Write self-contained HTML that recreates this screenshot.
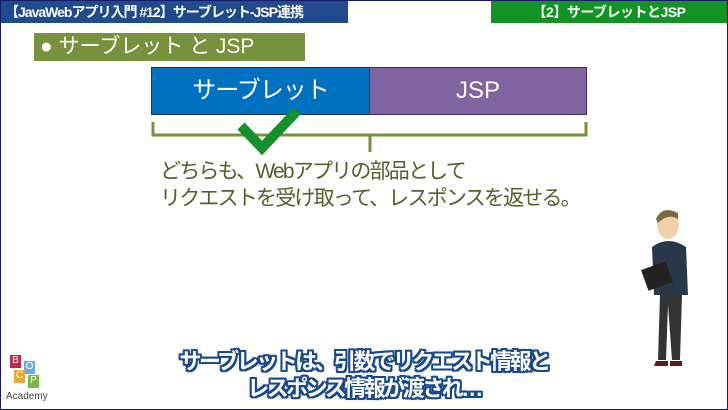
<!DOCTYPE html>
<html><head><meta charset="utf-8"><style>
*{margin:0;padding:0;box-sizing:border-box}
body{width:728px;height:410px;overflow:hidden;background:#fff;position:relative;font-family:"Liberation Sans","Noto Sans CJK JP",sans-serif}
.frame{position:absolute;left:0;top:0;width:728px;height:410px;border:1px solid #1a1a6a}
.a{position:absolute;white-space:nowrap}
</style></head><body>
<div class="frame"></div>
<div class="a" style="left:1px;top:1px;width:347px;height:22px;background:#1f4a8c;color:#fff;font-size:14px;line-height:22px;padding-left:4px;font-weight:bold;letter-spacing:-1px">【JavaWebアプリ入門 #12】サーブレット-JSP連携</div>
<div class="a" style="left:491px;top:1px;width:236px;height:22px;background:#139226;color:#fff;font-size:14px;line-height:22px;text-align:center;font-weight:bold;letter-spacing:-0.5px">【2】サーブレットとJSP</div>
<div class="a" style="left:34px;top:33px;width:271px;height:28px;background:#76923c;color:#fff;font-size:21px;line-height:28px;padding-left:6px">● サーブレット と JSP</div>
<div class="a" style="left:151px;top:67px;width:219px;height:48px;background:#0070c0;border:1px solid #1e2f4f;color:#fff;font-size:24px;line-height:46px;text-align:center;letter-spacing:-1px">サーブレット</div>
<div class="a" style="left:369px;top:67px;width:218px;height:48px;background:#8064a2;border:1px solid #3b3060;color:#fff;font-size:24px;line-height:46px;text-align:center">JSP</div>
<svg class="a" style="left:0;top:0" width="728" height="410">
<path d="M153 122 V135 H586 V122 M370 135 V152" fill="none" stroke="#76923c" stroke-width="3"/>
<path d="M241 126 L262 148 L297 111" fill="none" stroke="#16902c" stroke-width="10"/>
</svg>
<div class="a" style="left:160px;top:158px;color:#4f6228;font-size:21px;line-height:27px;letter-spacing:-1.8px">どちらも、Webアプリの部品として<br>リクエストを受け取って、レスポンスを返せる。</div>
<div class="a" style="left:0;top:348px;width:728px;text-align:center;color:#fff;font-size:22px;line-height:27px;font-weight:bold;letter-spacing:-2.5px;text-shadow:0 0 3px #1a4a8a,2px 2px 0 #1a4a8a,-2px -2px 0 #1a4a8a,2px -2px 0 #1a4a8a,-2px 2px 0 #1a4a8a,0 2px 0 #1a4a8a,0 -2px 0 #1a4a8a,2px 0 0 #1a4a8a,-2px 0 0 #1a4a8a">サーブレットは、引数でリクエスト情報と<br>レスポンス情報が渡され…</div>
<svg class="a" style="left:640px;top:205px" width="60" height="165">
<ellipse cx="28" cy="20" rx="11" ry="14" fill="#f1cfa8"/>
<path d="M16 14 Q22 0 38 8 L38 14 Q28 8 18 18Z" fill="#7a6a44"/>
<path d="M12 42 Q28 30 46 42 L48 90 L14 90Z" fill="#283848"/>
<path d="M20 90 L18 155 L26 155 L28 100 L32 155 L40 155 L42 90Z" fill="#333"/>
<rect x="4" y="60" width="26" height="22" fill="#222" transform="rotate(-20 17 71)"/>
<path d="M16 156 h12 v5 h-14z M30 156 h12 v5 h-12z" fill="#5a1a1a"/>
</svg>
<div class="a" style="left:8px;top:355px;width:36px;height:36px">
<div class="a" style="left:2px;top:0;width:11px;height:13px;background:#c0264e;color:#fff;font-size:10px;text-align:center">B</div>
<div class="a" style="left:16px;top:6px;width:11px;height:13px;background:#6aaee0;color:#fff;font-size:10px;text-align:center">O</div>
<div class="a" style="left:6px;top:15px;width:11px;height:13px;background:#e2a83a;color:#fff;font-size:10px;text-align:center">C</div>
<div class="a" style="left:20px;top:20px;width:11px;height:13px;background:#7ab84a;color:#fff;font-size:10px;text-align:center">P</div>
</div>
<div class="a" style="left:6px;top:391px;font-size:10px;color:#444">Academy</div>
</body></html>
